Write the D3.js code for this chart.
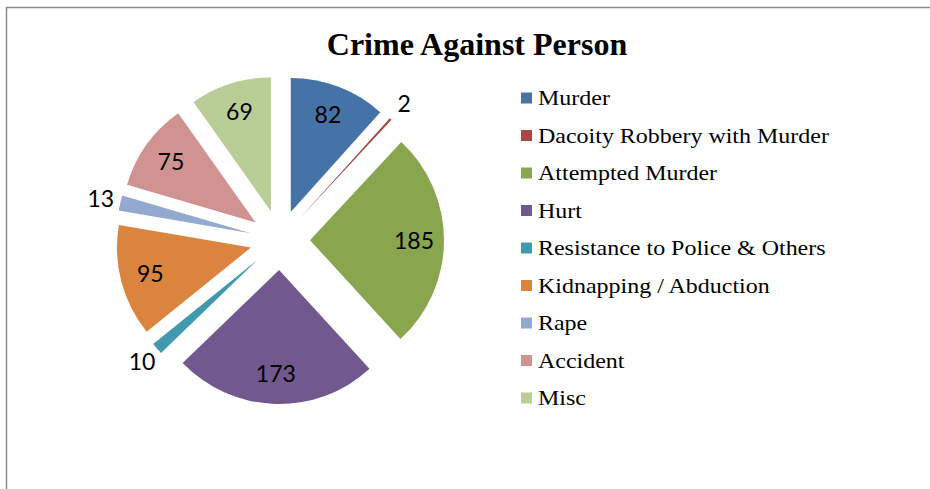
<!DOCTYPE html>
<html>
<head>
<meta charset="utf-8">
<script src="https://cdn.jsdelivr.net/npm/d3@7"></script>
<style>
  html, body { margin: 0; padding: 0; background: #fff; }
  svg { display: block; }
</style>
</head>
<body>
<svg id="chart" width="930" height="489"></svg>
<script>
const categories = [
  "Murder",
  "Dacoity Robbery with Murder",
  "Attempted Murder",
  "Hurt",
  "Resistance to Police & Others",
  "Kidnapping / Abduction",
  "Rape",
  "Accident",
  "Misc"
];
const values = [82, 2, 185, 173, 10, 95, 13, 75, 69];
const colors = ["#4572A7", "#AA4643", "#89A54E", "#71588F", "#4198AF", "#DB843D", "#93A9CF", "#D19392", "#B9CD96"];
const outsideLabels = ["Dacoity Robbery with Murder", "Resistance to Police & Others", "Rape"];

const svg = d3.select("#chart");

// frame
svg.append("path")
  .attr("d", "M6.5,489 L6.5,7.5 L930,7.5")
  .attr("fill", "none")
  .attr("stroke", "#8c8c8c")
  .attr("stroke-width", 1.5);

// title
svg.append("text")
  .attr("x", 477).attr("y", 55)
  .attr("text-anchor", "middle")
  .attr("font-family", "'Liberation Serif', 'Times New Roman', serif")
  .attr("font-weight", "bold")
  .attr("font-size", 32)
  .attr("fill", "#000")
  .text("Crime Against Person");

// exploded pie
const cx = 280, cy = 240, radius = 134, explode = 30;
const pie = d3.pie().sort(null).value(d => d.value);
const arc = d3.arc().innerRadius(0).outerRadius(radius);
const data = categories.map((c, i) => ({ name: c, value: values[i], color: colors[i] }));
const arcs = pie(data);

const g = svg.append("g").attr("transform", `translate(${cx},${cy})`);
const mid = a => (a.startAngle + a.endAngle) / 2;
const offset = (a, dist) => [Math.sin(mid(a)) * dist, -Math.cos(mid(a)) * dist];

const slices = g.selectAll("g.slice").data(arcs).enter().append("g")
  .attr("class", "slice")
  .attr("transform", d => { const [x, y] = offset(d, explode); return `translate(${x},${y})`; });

slices.append("path")
  .attr("d", arc)
  .attr("fill", d => d.data.color);

slices.append("text")
  .attr("transform", d => {
    const dist = outsideLabels.includes(d.data.name) ? 154 : 104;
    const [x, y] = offset(d, dist);
    return `translate(${x},${y})`;
  })
  .attr("text-anchor", "middle")
  .attr("dy", "0.35em")
  .attr("font-family", "Lato, 'Open Sans', sans-serif")
  .attr("font-size", 23)
  .attr("fill", "#000")
  .text(d => d.data.value);

// legend
const legend = svg.append("g").attr("transform", "translate(521,98)");
const rows = legend.selectAll("g").data(data).enter().append("g")
  .attr("transform", (d, i) => `translate(0,${i * 37.5})`);
rows.append("rect")
  .attr("x", 0).attr("y", -5.5)
  .attr("width", 11).attr("height", 11)
  .attr("fill", d => d.color);
rows.append("text")
  .attr("transform", "translate(17,0) scale(1.09,1)")
  .attr("dy", "0.33em")
  .attr("font-family", "'Liberation Serif', 'Times New Roman', serif")
  .attr("font-size", 22)
  .attr("fill", "#000")
  .text(d => d.name);
</script>
</body>
</html>
